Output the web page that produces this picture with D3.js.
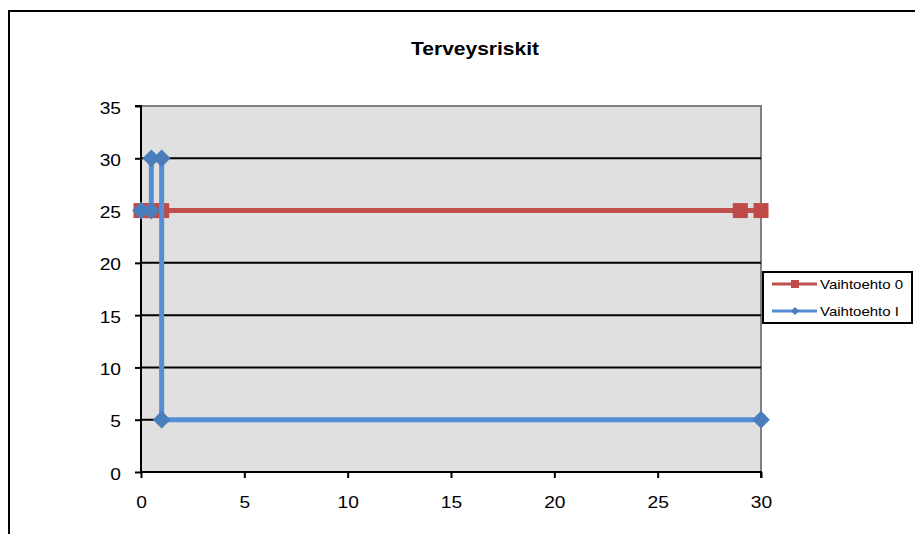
<!DOCTYPE html>
<html>
<head>
<meta charset="utf-8">
<script src="https://cdn.jsdelivr.net/npm/d3@7"></script>
<style>
  html, body { margin: 0; padding: 0; background: #fff; }
  svg { display: block; font-family: "Liberation Sans", Arial, sans-serif; }
</style>
</head>
<body>
<svg id="chart" width="915" height="534"></svg>
<script>
// Series data: [x, y] pairs
const seriesNames = ["Vaihtoehto 0", "Vaihtoehto I"];
const option0 = [[0, 25], [0.5, 25], [1, 25], [29, 25], [30, 25]];
const option1 = [[0, 25], [0.5, 25], [0.5, 30], [1, 30], [1, 5], [30, 5]];
const xTicks = [0, 5, 10, 15, 20, 25, 30];
const yTicks = [0, 5, 10, 15, 20, 25, 30, 35];
const chartTitle = "Terveysriskit";

// Text in this chart is drawn slightly wide
const stretch = 1.2;

const svg = d3.select("#chart");

// Outer chart frame
svg.append("rect")
  .attr("x", 9).attr("y", 11)
  .attr("width", 930).attr("height", 560)
  .attr("fill", "#fff").attr("stroke", "#000").attr("stroke-width", 2);

const plot = { left: 141, right: 761, top: 106, bottom: 472 };

const x = d3.scaleLinear().domain([0, 30]).range([plot.left, plot.right]);
const y = d3.scaleLinear().domain([0, 35]).range([plot.bottom, plot.top]);

// Plot area background with gray top/right border
svg.append("rect")
  .attr("x", plot.left).attr("y", plot.top)
  .attr("width", plot.right - plot.left).attr("height", plot.bottom - plot.top)
  .attr("fill", "#E0E0E0");
svg.append("path")
  .attr("d", `M${plot.left},${plot.top}H${plot.right}V${plot.bottom}`)
  .attr("fill", "none").attr("stroke", "#808080").attr("stroke-width", 2);

// Horizontal gridlines
svg.append("g")
  .selectAll("line")
  .data(yTicks.filter(t => t > 0 && t < 35))
  .join("line")
  .attr("x1", plot.left).attr("x2", plot.right)
  .attr("y1", d => y(d)).attr("y2", d => y(d))
  .attr("stroke", "#000").attr("stroke-width", 2);

// Axes
const yAxis = d3.axisLeft(y).tickValues(yTicks).tickSize(6);
const xAxis = d3.axisBottom(x).tickValues(xTicks).tickSize(6);

const gy = svg.append("g").attr("transform", `translate(${plot.left},0)`).call(yAxis);
const gx = svg.append("g").attr("transform", `translate(0,${plot.bottom})`).call(xAxis);

[gx, gy].forEach(g => {
  g.select(".domain").attr("stroke", "#000").attr("stroke-width", 2);
  g.selectAll(".tick line").attr("stroke", "#000").attr("stroke-width", 2);
  g.selectAll(".tick text")
    .attr("fill", "#000")
    .style("font-family", "'Liberation Sans', Arial, sans-serif")
    .style("font-size", "16px")
    .attr("transform", `scale(${stretch},1)`);
});
gy.selectAll(".tick text")
  .attr("x", -20 / stretch)
  .attr("y", 2)
  .attr("dy", "0.32em");
gx.selectAll(".tick text")
  .attr("y", 31)
  .attr("dy", "0.32em");
gy.select(".domain").attr("d", `M-6,${plot.top}H0V${plot.bottom}`);
gx.select(".domain").attr("d", `M${plot.left},0H${plot.right}V6`);

// Title
svg.append("g")
  .attr("transform", `translate(475,55) scale(${stretch},1)`)
  .append("text")
  .attr("text-anchor", "middle")
  .style("font-size", "17.5px").style("font-weight", "bold")
  .text(chartTitle);

const line = d3.line().x(d => x(d[0])).y(d => y(d[1]));

const red = "#C0504D", redMarker = "#BE4B48";
const blue = "#558ED5", blueMarker = "#4A7EBB";

// Vaihtoehto 0
svg.append("path")
  .datum(option0)
  .attr("d", line)
  .attr("fill", "none").attr("stroke", red).attr("stroke-width", 5);
const sq = 15;
svg.append("g")
  .selectAll("rect")
  .data(option0)
  .join("rect")
  .attr("x", d => x(d[0]) - sq / 2).attr("y", d => y(d[1]) - sq / 2)
  .attr("width", sq).attr("height", sq)
  .attr("fill", redMarker);

// Vaihtoehto I
svg.append("path")
  .datum(option1)
  .attr("d", line)
  .attr("fill", "none").attr("stroke", blue).attr("stroke-width", 5);
const diamond = d3.symbol().type(d3.symbolDiamond2).size(200);
svg.append("g")
  .selectAll("path")
  .data(option1)
  .join("path")
  .attr("transform", d => `translate(${x(d[0])},${y(d[1])})`)
  .attr("d", diamond)
  .attr("fill", blueMarker);

// Legend
const lg = svg.append("g");
lg.append("rect")
  .attr("x", 763).attr("y", 272)
  .attr("width", 149).attr("height", 51)
  .attr("fill", "#fff").attr("stroke", "#000").attr("stroke-width", 2);

const legendItems = [
  { name: seriesNames[0], color: red, marker: redMarker, shape: "square", y: 284 },
  { name: seriesNames[1], color: blue, marker: blueMarker, shape: "diamond", y: 311 }
];
legendItems.forEach(item => {
  lg.append("line")
    .attr("x1", 772).attr("x2", 817)
    .attr("y1", item.y).attr("y2", item.y)
    .attr("stroke", item.color).attr("stroke-width", 3);
  if (item.shape === "square") {
    lg.append("rect")
      .attr("x", 791).attr("y", item.y - 4)
      .attr("width", 8).attr("height", 8)
      .attr("fill", item.marker);
  } else {
    lg.append("path")
      .attr("transform", `translate(795,${item.y})`)
      .attr("d", d3.symbol().type(d3.symbolDiamond2).size(40))
      .attr("fill", item.marker);
  }
  lg.append("g")
    .attr("transform", `translate(820,${item.y + 4.5}) scale(${stretch},1)`)
    .append("text")
    .style("font-size", "12.5px")
    .text(item.name);
});
</script>
</body>
</html>
